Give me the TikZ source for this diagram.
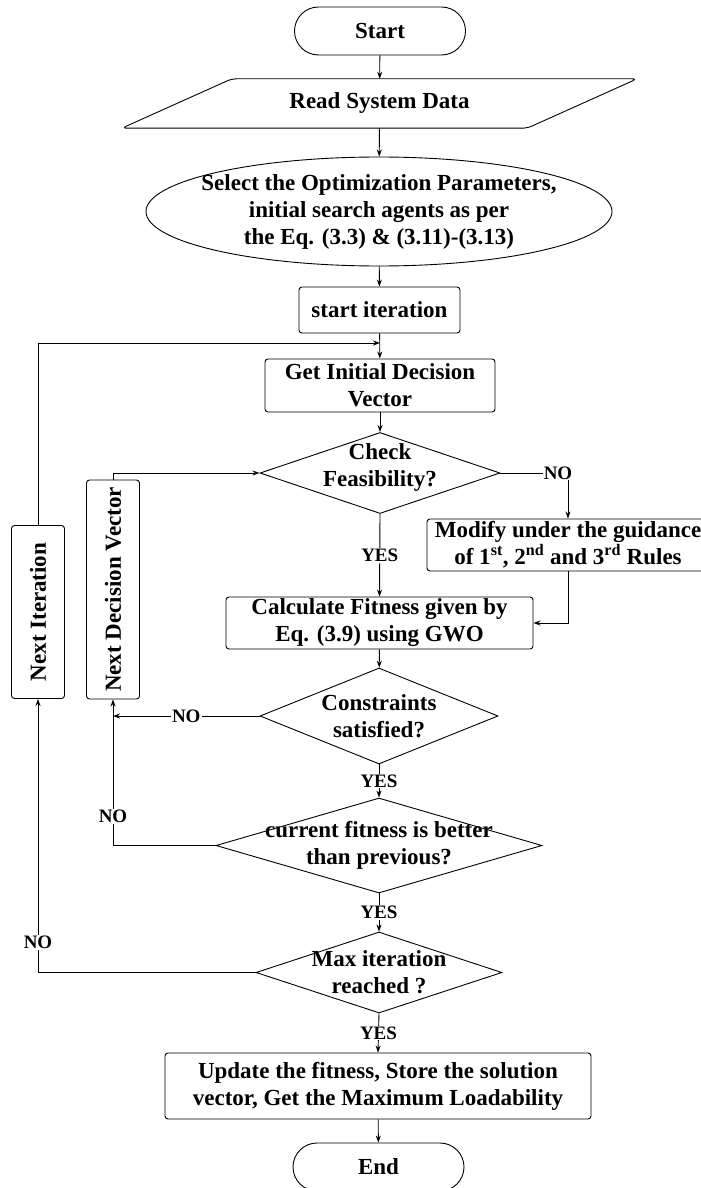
\documentclass[tikz,border=0pt]{standalone}
\usepackage{fontspec}
\setmainfont{Liberation Serif}
\usetikzlibrary{arrows.meta,positioning,shapes.geometric}

\tikzset{
  txt/.style={font=\fontsize{23}{27}\selectfont\bfseries,align=center},
  base/.style={txt,draw,line width=0.9pt,inner sep=0pt},
  term/.style={base,minimum width=171,minimum height=48,rounded corners=24},
  box/.style={base,rounded corners=3},
  dia/.style={draw,diamond,line width=0.9pt,inner sep=0pt},
  lbl/.style={font=\fontsize{19}{22}\selectfont\bfseries,fill=white,inner sep=1pt},
  arr/.style={-{Stealth[length=7pt,width=5pt]},line width=0.9pt}
}

\begin{document}
\begin{tikzpicture}[x=1pt,y=-1pt]
  \useasboundingbox (0,0) rectangle (701,1188);

  % main column
  \node[term] (start) at (380,31) {Start};
  \node[txt,minimum width=515,minimum height=49,inner sep=0pt] (read) at (379.5,103.5) {Read System Data};
  \draw[line width=0.9pt,rounded corners=5]
    ([xshift=110pt]read.north west) -- (read.north east) -- ([xshift=-110pt]read.south east)
    -- (read.south west) -- cycle;
  \node[draw,ellipse,line width=0.9pt,inner sep=0pt,minimum width=466,minimum height=109,
    label={[txt]center:Select the Optimization Parameters,\\initial search agents as per\\the Eq. (3.3) \& (3.11)-(3.13)}]
    (sel) at (379,211.5) {};
  \node[box,minimum width=161,minimum height=46] (iter) at (379.5,310) {start iteration};
  \coordinate (loopin) at (380,343);
  \node[box,minimum width=230,minimum height=53] (init) at (380,385.5) {Get Initial Decision\\Vector};
  \node[dia,minimum width=240,minimum height=81,
    label={[txt,yshift=6pt]center:Check\\Feasibility?}] (chk) at (380,473) {};
  \node[box,minimum width=282,minimum height=52] (mod) at (568,545)
    {Modify under the guidance\\of 1\textsuperscript{st}, 2\textsuperscript{nd} and 3\textsuperscript{rd} Rules};
  \node[box,minimum width=307,minimum height=52] (calc) at (379.5,623) {Calculate Fitness given by\\Eq. (3.9) using GWO};
  \node[dia,minimum width=238,minimum height=96,
    label={[txt]center:Constraints\\satisfied?}] (con) at (379,716) {};
  \node[dia,minimum width=326,minimum height=95,
    label={[txt]center:current fitness is better\\than previous?}] (cur) at (379,845.5) {};
  \node[dia,minimum width=246,minimum height=81,
    label={[txt]center:Max iteration\\reached ?}] (max) at (379,972.5) {};
  \node[box,minimum width=426,minimum height=66] (upd) at (378,1086)
    {Update the fitness, Store the solution\\vector, Get the Maximum Loadability};
  \node[term] (end) at (378.5,1167) {End};

  % side boxes
  \node[box,minimum width=53,minimum height=173] (nextit) at (38,612) {\rotatebox{90}{Next Iteration}};
  \node[box,minimum width=53,minimum height=219] (nextdv) at (113,589.5) {\rotatebox{90}{Next Decision Vector}};

  % connectors
  \draw[arr] (start) -- (read);
  \draw[arr] (read) -- (sel);
  \draw[arr] (sel) -- (iter);
  \draw[arr] (iter) -- (init);
  \draw[arr] (init) -- (chk);
  \draw[arr] (chk.east) -| node[lbl,xshift=-10pt]{NO} (mod.north);
  \draw[arr] (chk.south) -- node[lbl]{YES} (calc.north);
  \draw[arr] (mod.south) |- (calc.east);
  \draw[arr] (calc) -- (con);
  \draw[arr] (con.west) -- node[lbl]{NO} (con.west -| nextdv.south);
  \draw[arr] (con.south) -- node[lbl]{YES} (cur.north);
  \draw[arr] (cur.west) -| node[lbl,pos=0.6]{NO} (nextdv.south);
  \draw[arr] (cur.south) -- node[lbl]{YES} (max.north);
  \draw[arr] (max.west) -| node[lbl,pos=0.555]{NO} (nextit.south);
  \draw[arr] (max.south) -- node[lbl]{YES} (upd.north);
  \draw[arr] (upd) -- (end);
  \draw[arr] (nextdv.north) |- (chk.west);
  \draw[arr] (nextit.north) |- (loopin);
\end{tikzpicture}
\end{document}
